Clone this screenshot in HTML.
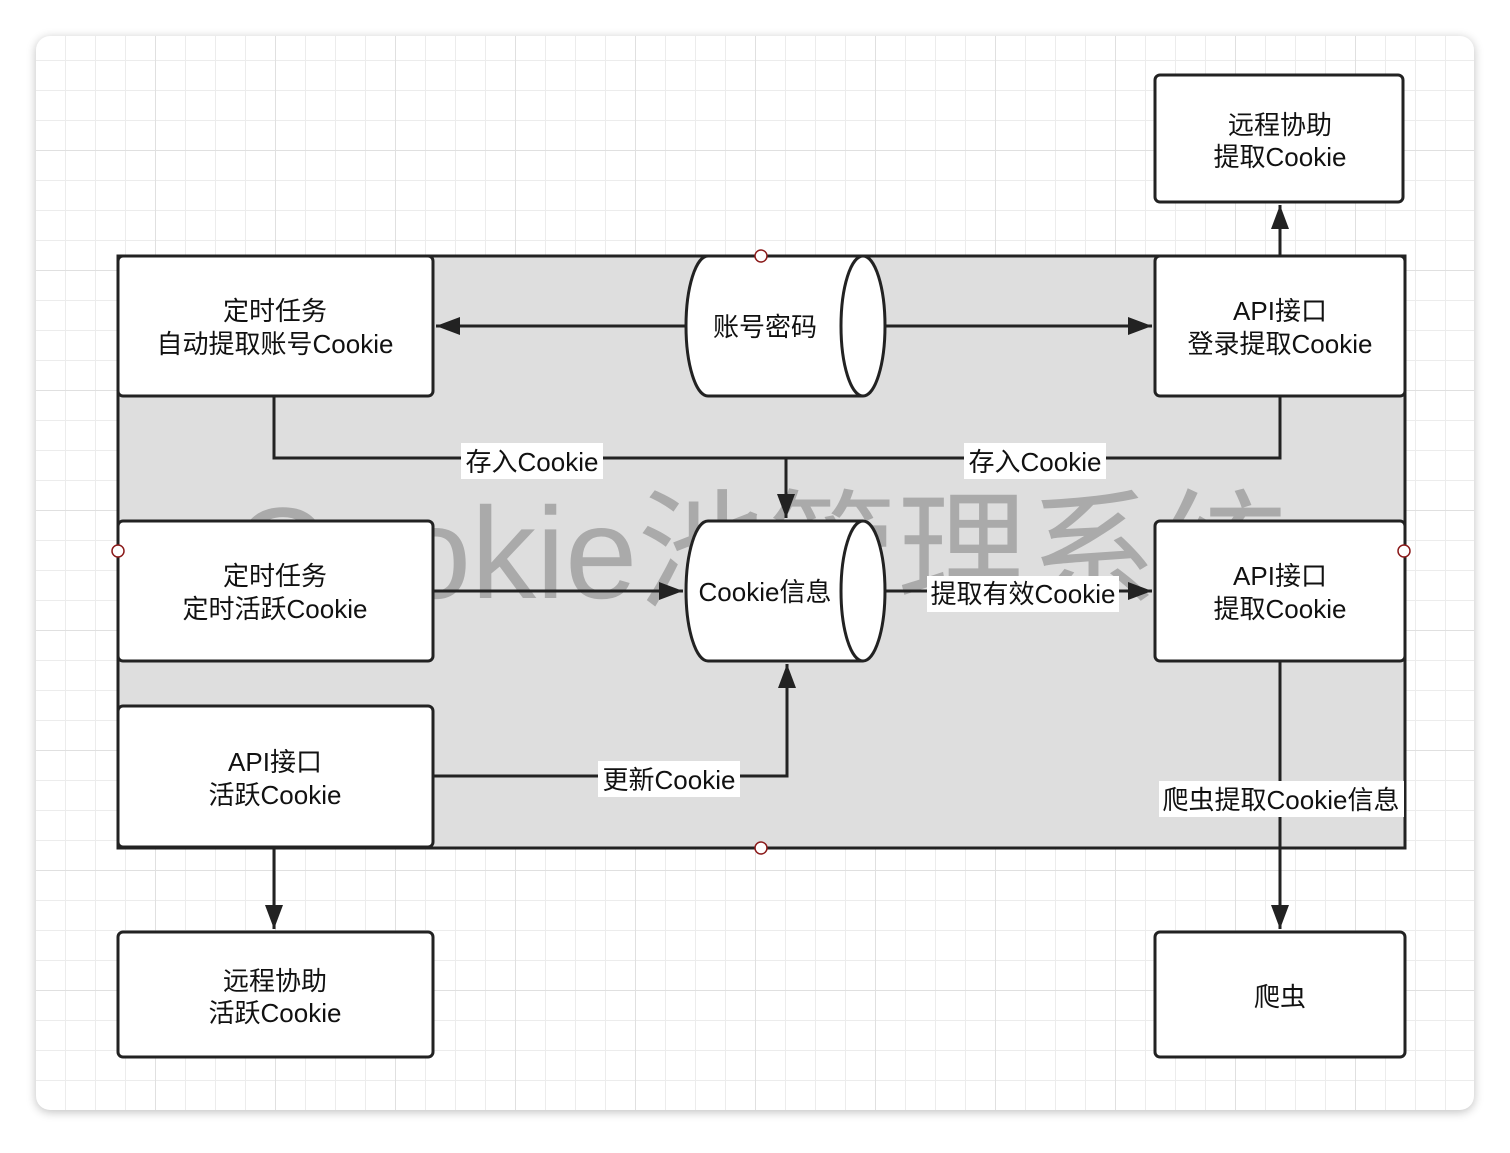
<!DOCTYPE html>
<html><head><meta charset="utf-8"><style>
html,body{margin:0;padding:0;background:#fff;}
</style></head><body>
<svg width="1510" height="1148" xmlns="http://www.w3.org/2000/svg" font-family="Liberation Sans, Noto Sans CJK SC, sans-serif">
<defs>
<pattern id="g" x="5" y="0" width="30" height="30" patternUnits="userSpaceOnUse">
<path d="M0 0H30M0 0V30" stroke="#ececec" stroke-width="2" fill="none"/>
</pattern>
<pattern id="G" x="35" y="30" width="120" height="120" patternUnits="userSpaceOnUse">
<path d="M0 0H120M0 0V120" stroke="#e0e0e0" stroke-width="2" fill="none"/>
</pattern>
<filter id="sh" x="-5%" y="-5%" width="110%" height="110%"><feGaussianBlur stdDeviation="5"/></filter>
<marker id="aw" markerWidth="24" markerHeight="18" refX="24" refY="9" orient="auto" markerUnits="userSpaceOnUse">
<path d="M0 0 L24 9 L0 18 Z" fill="#222"/>
</marker>
</defs>
<rect x="36" y="38" width="1438" height="1074" rx="14" fill="#000" opacity="0.25" filter="url(#sh)"/>
<rect x="36" y="36" width="1438" height="1074" rx="14" fill="#fff"/>
<rect x="36" y="36" width="1438" height="1074" rx="14" fill="url(#g)"/>
<rect x="36" y="36" width="1438" height="1074" rx="14" fill="url(#G)"/>

<rect x="118" y="256" width="1287" height="592" fill="#dedede" stroke="#222" stroke-width="3"/>
<text x="760" y="598" font-size="130" fill="#aaa" text-anchor="middle">Cookie池管理系统</text>

<g fill="none" stroke="#222" stroke-width="3">
<path d="M686 326 H436" marker-end="url(#aw)"/>
<path d="M885 326 H1152" marker-end="url(#aw)"/>
<path d="M1280 256 V205" marker-end="url(#aw)"/>
<path d="M274 396 V458 H786 V518" marker-end="url(#aw)"/>
<path d="M1280 396 V458 H786"/>
<path d="M433 591 H683" marker-end="url(#aw)"/>
<path d="M885 591 H1152" marker-end="url(#aw)"/>
<path d="M433 776 H787 V664" marker-end="url(#aw)"/>
<path d="M1280 661 V929" marker-end="url(#aw)"/>
<path d="M274 847 V929" marker-end="url(#aw)"/>
</g>

<g fill="#fff" stroke="#222" stroke-width="3">
<rect x="118" y="256" width="315" height="140" rx="5"/>
<rect x="1155" y="256" width="250" height="140" rx="5"/>
<rect x="1155" y="75" width="248" height="127" rx="5"/>
<rect x="118" y="521" width="315" height="140" rx="5"/>
<rect x="1155" y="521" width="250" height="140" rx="5"/>
<rect x="118" y="706" width="315" height="141" rx="5"/>
<rect x="118" y="932" width="315" height="125" rx="5"/>
<rect x="1155" y="932" width="250" height="125" rx="5"/>
<path d="M708 256 H863 A22 70 0 0 1 863 396 H708 A22 70 0 0 1 708 256 Z"/>
<path d="M863 256 A22 70 0 0 0 863 396" fill="none"/>
<path d="M708 521 H863 A22 70 0 0 1 863 661 H708 A22 70 0 0 1 708 521 Z"/>
<path d="M863 521 A22 70 0 0 0 863 661" fill="none"/>
</g>

<g fill="#fff">
<rect x="461" y="443" width="142" height="36"/>
<rect x="964" y="443" width="142" height="36"/>
<rect x="927" y="576" width="192" height="36"/>
<rect x="598" y="761" width="142" height="36"/>
<rect x="1159" y="781" width="245" height="36"/>
</g>

<g font-size="26" fill="#111" text-anchor="middle">
<text x="275" y="320">定时任务</text><text x="275" y="353">自动提取账号Cookie</text>
<text x="765" y="336">账号密码</text>
<text x="1280" y="320">API接口</text><text x="1280" y="353">登录提取Cookie</text>
<text x="1280" y="134">远程协助</text><text x="1280" y="166">提取Cookie</text>
<text x="275" y="585">定时任务</text><text x="275" y="618">定时活跃Cookie</text>
<text x="765" y="601">Cookie信息</text>
<text x="1280" y="585">API接口</text><text x="1280" y="618">提取Cookie</text>
<text x="275" y="771">API接口</text><text x="275" y="804">活跃Cookie</text>
<text x="275" y="990">远程协助</text><text x="275" y="1022">活跃Cookie</text>
<text x="1280" y="1006">爬虫</text>
<text x="532" y="471">存入Cookie</text>
<text x="1035" y="471">存入Cookie</text>
<text x="1023" y="603">提取有效Cookie</text>
<text x="669" y="789">更新Cookie</text>
<text x="1281" y="809">爬虫提取Cookie信息</text>
</g>

<g fill="#fff" stroke="#8b1a1a" stroke-width="1.5">
<circle cx="761" cy="256" r="6"/>
<circle cx="118" cy="551" r="6"/>
<circle cx="1404" cy="551" r="6"/>
<circle cx="761" cy="848" r="6"/>
</g>
</svg>
</body></html>
